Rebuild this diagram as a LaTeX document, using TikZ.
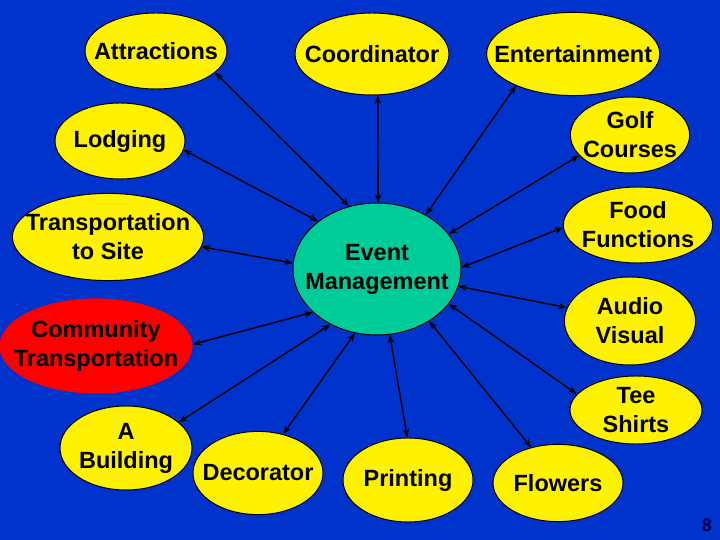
\documentclass[tikz,border=0pt]{standalone}
\usepackage{fontspec}
\setmainfont{Liberation Sans}
\usepackage{tikz}
\usetikzlibrary{shapes.geometric}
\usetikzlibrary{arrows.meta}
\usepackage{xcolor}

\definecolor{slideblue}{RGB}{0,51,204}
\definecolor{hubgreen}{RGB}{0,204,153}
\definecolor{numnavy}{RGB}{0,0,70}

\begin{document}
\begin{tikzpicture}[
    bubble/.style={ellipse, draw=black, line width=0.7pt, fill=yellow, inner sep=0pt},
    hub/.style={bubble, fill=hubgreen},
    every label/.style={font=\bfseries\fontsize{16.7}{20.6}\selectfont, align=center, text=black},
    link/.style={{Stealth[length=6pt,width=4.5pt]}-{Stealth[length=6pt,width=4.5pt]}, line width=1pt, black}
]
    % Slide background
    \useasboundingbox (0,0) rectangle (18,13.5);
    \fill[slideblue] (0,0) rectangle (18,13.5);

    % Centre
    \node[hub, minimum width=4.2cm, minimum height=3.3cm, label={center:Event\\Management}] (ev) at (9.425,6.775) {};

    % Top row
    \node[bubble, minimum width=3.55cm, minimum height=1.9cm, label={center:Attractions}] (attr) at (3.9,12.225) {};
    \node[bubble, minimum width=3.85cm, minimum height=2.05cm, label={center:Coordinator}] (coord) at (9.3,12.15) {};
    \node[bubble, minimum width=4.33cm, minimum height=2.08cm, label={center:Entertainment}] (ent) at (14.33,12.15) {};

    % Left side
    \node[bubble, minimum width=3.25cm, minimum height=1.9cm, label={center:Lodging}] (lodg) at (3.0,9.975) {};
    \node[bubble, minimum width=4.78cm, minimum height=2.18cm, label={center:Transportation\\to Site}] (site) at (2.7,7.575) {};
    \node[bubble, fill=red, draw=none, minimum width=4.83cm, minimum height=2.38cm, label={center:Community\\Transportation}] (comm) at (2.4,4.85) {};
    \node[bubble, minimum width=3.3cm, minimum height=2.1cm, label={center:A\\Building}] (bldg) at (3.15,2.3) {};

    % Right side
    \node[bubble, minimum width=2.98cm, minimum height=1.9cm, label={center:Golf\\Courses}] (golf) at (15.75,10.125) {};
    \node[bubble, minimum width=3.73cm, minimum height=1.9cm, label={center:Food\\Functions}] (food) at (15.95,7.875) {};
    \node[bubble, minimum width=3.28cm, minimum height=2.2cm, label={center:Audio\\Visual}] (av) at (15.75,5.475) {};
    \node[bubble, minimum width=3.3cm, minimum height=1.7cm, label={center:Tee\\Shirts}] (tee) at (15.9,3.25) {};

    % Bottom row
    \node[bubble, minimum width=3.25cm, minimum height=2.08cm, label={center:Decorator}] (deco) at (6.45,1.675) {};
    \node[bubble, minimum width=3.25cm, minimum height=2.1cm, label={center:Printing}] (prnt) at (10.2,1.5) {};
    \node[bubble, minimum width=3.25cm, minimum height=1.93cm, label={center:Flowers}] (flow) at (13.95,1.425) {};

    % Links to the centre
    \foreach \a/\n/\b in {114/attr/-20, 141/lodg/-8, 89/coord/-82, 48/ent/209,
                          26/golf/202, 1/food/182, -12/av/168, -26/tee/165,
                          -45/flow/127, -79/prnt/91, -109/deco/57, -130/bldg/26,
                          -146/comm/1, 176/site/-6} {
        \draw[link] (ev.\a) -- (\n.\b);
    }

    % Slide number
    \node[font=\bfseries\fontsize{12.8}{14}\selectfont, text=numnavy] (num) at (17.675,0.375) {8};
\end{tikzpicture}
\end{document}
